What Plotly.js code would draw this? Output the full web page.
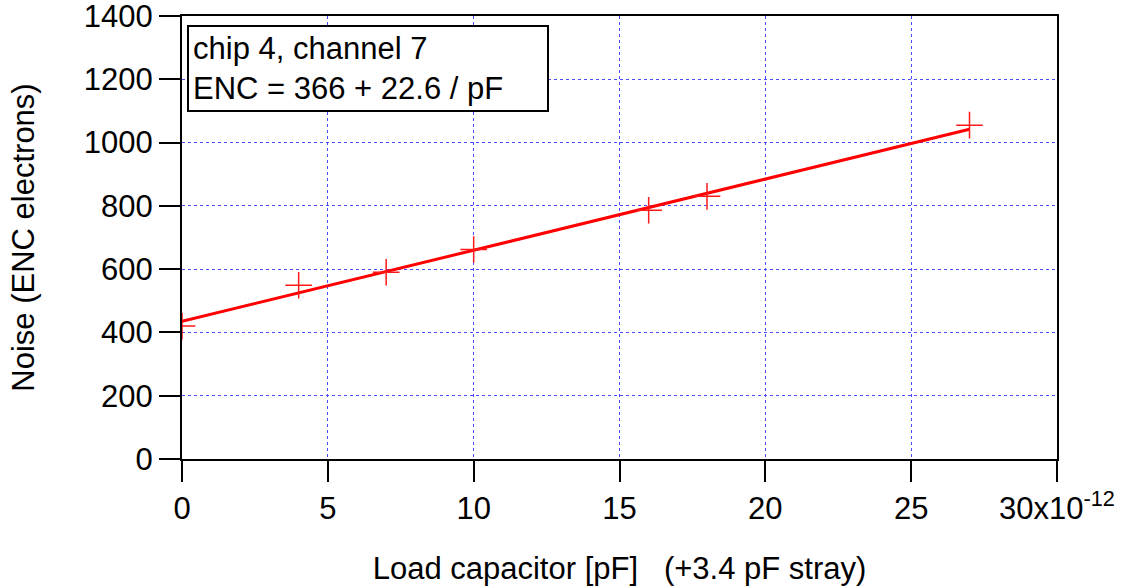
<!DOCTYPE html>
<html>
<head>
<meta charset="utf-8">
<script src="https://cdn.plot.ly/plotly-3.0.1.min.js"></script>
<style>
  html, body { margin: 0; padding: 0; background: #fff; }
  #chart { width: 1127px; height: 586px; }
</style>
</head>
<body>
<div id="chart"></div>
<script>
// Measured noise per load capacitor (pF, stray excluded)
const loadCap = [0, 4, 7, 10, 16, 18, 27];
const noiseEnc = [420, 549, 590, 662, 786, 830, 1055];

// Linear fit drawn across the measured range
const fitCap = [0, 27];
const fitEnc = [435, 1042];

// Axis ticks
const xTickVals = [0, 5, 10, 15, 20, 25, 30];
const xTickText = ['0', '5', '10', '15', '20', '25', '30x10<sup>-12</sup>'];
const yTickVals = [0, 200, 400, 600, 800, 1000, 1200, 1400];

const infoLines = ['chip 4, channel 7', 'ENC = 366 + 22.6 / pF'];

const FONT = 'Liberation Sans, Arial, sans-serif';
const gridStyle = { showgrid: true, gridcolor: '#4a4aff', gridwidth: 1, griddash: '3px,3px' };

const traces = [
  {
    x: fitCap, y: fitEnc, type: 'scatter', mode: 'lines',
    line: { color: '#ff0000', width: 3 }, hoverinfo: 'skip'
  },
  {
    x: loadCap, y: noiseEnc, type: 'scatter', mode: 'markers',
    marker: { symbol: 'cross-thin-open', size: 19, color: '#ff1a1a', line: { color: '#ff1a1a', width: 1.5 } }
  }
];

const layout = {
  width: 1127, height: 586,
  margin: { l: 182, r: 70, t: 16, b: 127, pad: 0 },
  paper_bgcolor: '#fff', plot_bgcolor: '#fff',
  showlegend: false,
  font: { family: FONT, color: '#000', size: 30 },
  xaxis: Object.assign({
    range: [0, 30], tickmode: 'array', tickvals: xTickVals, ticktext: xTickText,
    ticks: 'outside', ticklen: 21, tickwidth: 2, tickcolor: '#000',
    showline: true, linecolor: '#000', linewidth: 2, mirror: true,
    zeroline: false, tickfont: { size: 31, family: FONT }, ticklabeloverflow: 'allow',
    title: { text: 'Load capacitor [pF] &nbsp; (+3.4 pF stray)', font: { size: 31, family: FONT }, standoff: 32 }
  }, gridStyle),
  yaxis: Object.assign({
    range: [0, 1400], tickmode: 'array', tickvals: yTickVals,
    ticks: 'outside', ticklen: 21, tickwidth: 2, tickcolor: '#000',
    showline: true, linecolor: '#000', linewidth: 2, mirror: true,
    zeroline: false, tickfont: { size: 31, family: FONT }, ticklabeloverflow: 'allow',
    title: { text: 'Noise (ENC electrons)', font: { size: 31, family: FONT }, standoff: 40 }
  }, gridStyle),
  annotations: [{
    xref: 'paper', yref: 'paper', x: 0.006, y: 0.98,
    xanchor: 'left', yanchor: 'top', align: 'left',
    text: infoLines.join('<br>'),
    showarrow: false, bgcolor: '#fff', bordercolor: '#000', borderwidth: 2, borderpad: 4,
    width: 350, font: { size: 31, family: FONT, color: '#000' }
  }]
};

Plotly.newPlot('chart', traces, layout, { displayModeBar: false, staticPlot: true });
</script>
</body>
</html>
